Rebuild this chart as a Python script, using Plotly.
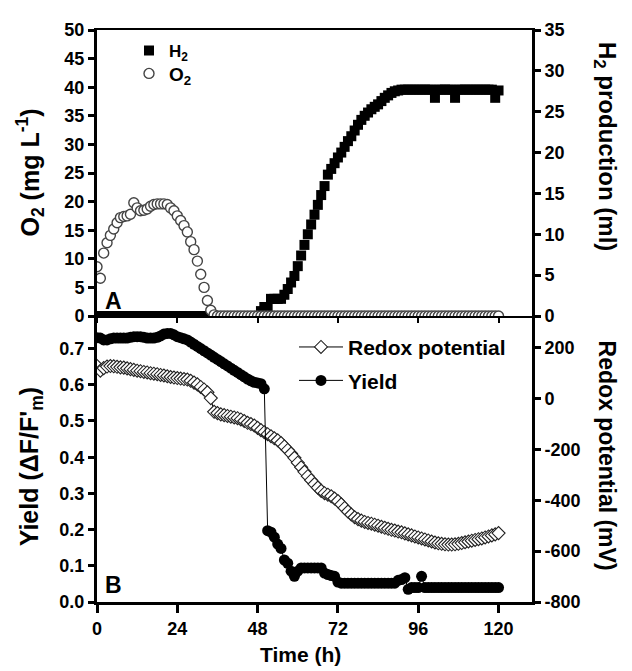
import plotly.graph_objects as go

# ---------------- data ----------------
hours = list(range(0, 121))

o2_mg_per_l = [8.6, 6.6, 11.0, 12.8, 14.1, 15.2, 16.3, 17.2, 17.4, 17.5,
               17.8, 19.8, 18.9, 18.4, 18.5, 18.7, 19.2, 19.5, 19.6, 19.6,
               19.6, 19.5, 18.9, 18.4, 17.5, 16.7, 15.8, 14.7, 13.0, 11.6,
               9.6, 7.3, 5.0, 2.7, 1.0, 0.2, 0, 0, 0, 0,
               0, 0, 0, 0, 0, 0, 0, 0, 0, 0,
               0, 0, 0, 0, 0, 0, 0, 0, 0, 0,
               0, 0, 0, 0, 0, 0, 0, 0, 0, 0,
               0, 0, 0, 0, 0, 0, 0, 0, 0, 0,
               0, 0, 0, 0, 0, 0, 0, 0, 0, 0,
               0, 0, 0, 0, 0, 0, 0, 0, 0, 0,
               0, 0, 0, 0, 0, 0, 0, 0, 0, 0,
               0, 0, 0, 0, 0, 0, 0, 0, 0, 0,
               0]

h2_ml = [0, 0, 0, 0, 0, 0, 0, 0, 0, 0,
         0, 0, 0, 0, 0, 0, 0, 0, 0, 0,
         0, 0, 0, 0, 0, 0, 0, 0, 0, 0,
         0, 0, 0, 0, 0, 0, 0, 0, 0, 0,
         0, 0, 0, 0, 0, 0, 0, 0, 0, 0.6,
         1.1, 1.1, 2.1, 2.1, 2.1, 2.1, 2.6, 3.3, 4.1, 4.9,
         6.1, 7.4, 8.7, 10.0, 11.2, 12.4, 13.6, 14.8, 15.9, 17.3,
         18.0, 18.7, 19.4, 20.0, 20.7, 21.4, 22.0, 22.7, 23.4, 24.0,
         24.5, 24.9, 25.3, 25.6, 25.9, 26.3, 26.7, 27.0, 27.3, 27.5,
         27.6, 27.7, 27.7, 27.7, 27.7, 27.7, 27.7, 27.7, 27.7, 27.7,
         27.7, 26.7, 27.7, 27.7, 27.7, 27.7, 27.7, 26.7, 27.7, 27.7,
         27.7, 27.7, 27.7, 27.7, 27.7, 27.7, 27.7, 27.7, 27.7, 26.7,
         27.6]

yield_values = [0.730, 0.729, 0.724, 0.724, 0.727, 0.729, 0.729, 0.729, 0.729, 0.729,
                0.731, 0.733, 0.733, 0.733, 0.731, 0.729, 0.729, 0.729, 0.731, 0.735,
                0.740, 0.742, 0.742, 0.738, 0.733, 0.730, 0.727, 0.724, 0.718, 0.712,
                0.706, 0.700, 0.694, 0.688, 0.682, 0.676, 0.670, 0.664, 0.658, 0.652,
                0.646, 0.640, 0.634, 0.628, 0.622, 0.616, 0.611, 0.607, 0.605, 0.603,
                0.589, 0.197, 0.193, 0.179, 0.160, 0.148, 0.116, 0.107, 0.085, 0.071,
                0.085, 0.094, 0.094, 0.094, 0.094, 0.094, 0.094, 0.094, 0.080, 0.076,
                0.073, 0.071, 0.055, 0.052, 0.052, 0.052, 0.052, 0.052, 0.052, 0.052,
                0.052, 0.052, 0.052, 0.052, 0.052, 0.052, 0.052, 0.052, 0.052, 0.052,
                0.060, 0.062, 0.067, 0.035, 0.040, 0.040, 0.040, 0.071, 0.040, 0.040,
                0.040, 0.040, 0.040, 0.040, 0.040, 0.040, 0.040, 0.040, 0.040, 0.040,
                0.040, 0.040, 0.040, 0.040, 0.040, 0.040, 0.040, 0.040, 0.040, 0.040,
                0.040]

redox_mv = [128, 110, 120, 126, 128, 127, 125, 123, 122, 119,
            116, 113, 110, 108, 105, 103, 100, 98, 96, 93,
            91, 88, 85, 83, 81, 79, 77, 75, 70, 63,
            56, 46, 36, 25, 2, -52, -57, -62, -65, -68,
            -71, -74, -77, -82, -88, -95, -100, -106, -115, -124,
            -132, -140, -148, -156, -164, -175, -188, -202, -216, -233,
            -252, -270, -288, -305, -321, -336, -350, -363, -372, -378,
            -384, -393, -403, -416, -430, -444, -456, -467, -474, -480,
            -485, -489, -492, -496, -500, -504, -508, -512, -516, -519,
            -523, -526, -530, -534, -538, -542, -546, -550, -554, -558,
            -562, -566, -569, -571, -573, -574, -574, -573, -571, -568,
            -565, -562, -559, -556, -553, -550, -546, -542, -538, -534,
            -529]

time_ticks = [0, 24, 48, 72, 96, 120]
o2_ticks = [0, 5, 10, 15, 20, 25, 30, 35, 40, 45, 50]
h2_ticks = [0, 5, 10, 15, 20, 25, 30, 35]
yield_ticks = [0.0, 0.1, 0.2, 0.3, 0.4, 0.5, 0.6, 0.7]
redox_ticks = [-800, -600, -400, -200, 0, 200]
redox_tick_labels = ["-800", "-600", "-400", "-200", "0", "200"]

# ---------------- figure ----------------
FONT = "Liberation Sans, Arial, sans-serif"
OFF = 8                      # page body margin of the html page
W, H = 632 - OFF, 671 - OFF  # figure size
L, R, T, B = 97 - OFF, 100, 20 - OFF, 69
PW, PH = W - L - R, H - T - B

fig = go.Figure()

# top panel: H2 on main (right) axis, O2 on overlay (left) axis so O2 is drawn on top
fig.add_trace(go.Scatter(
    x=hours, y=h2_ml, mode="markers", name="H<sub>2</sub>",
    marker=dict(symbol="square", size=10, color="black", line=dict(width=0)),
    xaxis="x", yaxis="y", legend="legend"))
fig.add_trace(go.Scatter(
    x=hours, y=o2_mg_per_l, mode="markers", name="O<sub>2</sub>",
    marker=dict(symbol="circle", size=10, color="white", line=dict(color="#444444", width=1.4)),
    xaxis="x", yaxis="y2", legend="legend2"))

# bottom panel: redox on main (right) axis, yield on overlay (left)
fig.add_trace(go.Scatter(
    x=hours, y=redox_mv, mode="lines+markers", name="Redox potential",
    line=dict(color="black", width=1),
    marker=dict(symbol="diamond", size=10, color="white", line=dict(color="#222222", width=1.1)),
    xaxis="x2", yaxis="y3", legend="legend3"))
fig.add_trace(go.Scatter(
    x=hours, y=yield_values, mode="lines+markers", name="Yield",
    line=dict(color="black", width=1),
    marker=dict(symbol="circle", size=11, color="black"),
    xaxis="x2", yaxis="y4", legend="legend4"))

tick_font = dict(family=FONT, size=18, color="black", weight="bold")
common_axis = dict(showgrid=False, zeroline=False, showline=True, linecolor="black",
                   ticks="outside", tickcolor="black", tickfont=tick_font)

def leg(x, y, size, itemwidth=30):
    return dict(x=x, y=y, xanchor="left", yanchor="top", bgcolor="rgba(0,0,0,0)",
                borderwidth=0, itemwidth=itemwidth,
                font=dict(family=FONT, size=size, color="black", weight="bold"))

def px_x(page_px):
    return (page_px - OFF - L) / PW

def px_y(page_py):
    return (H - B - (page_py - OFF)) / PH

fig.update_layout(
    width=W, height=H,
    margin=dict(l=L, r=R, t=T, b=B, pad=0),
    paper_bgcolor="white", plot_bgcolor="white",
    font=dict(family=FONT, size=18, color="black", weight="bold"),
    showlegend=True,
    xaxis=dict(**common_axis, domain=[0, 1], anchor="y", range=[0, 130],
               tickvals=time_ticks, showticklabels=False, linewidth=1.5,
               mirror=True, ticklen=5, tickwidth=2),
    yaxis=dict(**common_axis, domain=[0.5, 1], anchor="x", side="right",
               range=[0, 35], tickvals=h2_ticks, linewidth=3, ticklen=6, tickwidth=2.5),
    yaxis2=dict(**common_axis, overlaying="y", anchor="x", side="left",
                range=[0, 50], tickvals=o2_ticks, linewidth=3, ticklen=6, tickwidth=2.5),
    xaxis2=dict(**common_axis, domain=[0, 1], anchor="y3", range=[0, 130],
                tickvals=time_ticks, linewidth=3, ticklen=8, tickwidth=3),
    yaxis3=dict(**common_axis, domain=[0, 0.5], anchor="x2", side="right",
                range=[-800, 325], tickvals=redox_ticks, ticktext=redox_tick_labels,
                linewidth=3, ticklen=6, tickwidth=2.5),
    yaxis4=dict(**common_axis, overlaying="y3", anchor="x2", side="left",
                range=[0, 0.79], tickvals=yield_ticks, tickformat=".1f",
                linewidth=3, ticklen=6, tickwidth=2.5),
    legend=leg(px_x(129), px_y(23), 17),
    legend2=leg(px_x(129), px_y(45), 19),
    legend3=leg(px_x(294), px_y(322), 21, itemwidth=44),
    legend4=leg(px_x(294), px_y(356), 21, itemwidth=44),
)

def title_font(size):
    return dict(family=FONT, size=size, color="black", weight="bold")

annotations = [
    dict(text="O<sub>2</sub> (mg L<sup>-1</sup>)", x=px_x(30), y=px_y(165), textangle=-90, size=25),
    dict(text="Yield (ΔF/F'<sub>m</sub>)", x=px_x(31), y=px_y(465), textangle=-90, size=25),
    dict(text="H<sub>2</sub> production (ml)", x=px_x(605), y=px_y(138), textangle=90, size=24),
    dict(text="Redox potential (mV)", x=px_x(607), y=px_y(453), textangle=90, size=23),
    dict(text="Time (h)", x=px_x(300), y=px_y(655), textangle=0, size=21),
]
for a in annotations:
    size = a.pop("size")
    fig.add_annotation(xref="paper", yref="paper", showarrow=False,
                       xanchor="center", yanchor="middle", font=title_font(size), **a)

panel_font = dict(family=FONT, size=23, color="black", weight="bold")
fig.add_annotation(text="A", xref="paper", yref="paper", x=px_x(113), y=px_y(296),
                   showarrow=False, xanchor="center", yanchor="middle", font=panel_font)
fig.add_annotation(text="B", xref="paper", yref="paper", x=px_x(113), y=px_y(585),
                   showarrow=False, xanchor="center", yanchor="middle", font=panel_font)

fig.write_html("out.html")
